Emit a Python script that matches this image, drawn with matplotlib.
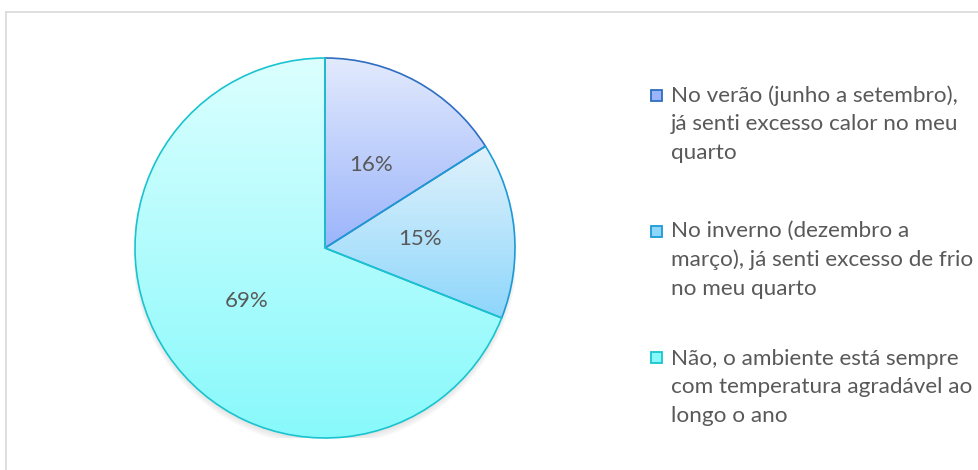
import matplotlib
matplotlib.use("Agg")
import matplotlib.pyplot as plt
import numpy as np
from matplotlib.colors import LinearSegmentedColormap
from matplotlib.patches import Rectangle, Circle
from matplotlib.lines import Line2D

categories = [
    "No verão (junho a setembro),\njá senti excesso calor no meu\nquarto",
    "No inverno (dezembro a\nmarço), já senti excesso de frio\nno meu quarto",
    "Não, o ambiente está sempre\ncom temperatura agradável ao\nlongo o ano",
]
values = [16, 15, 69]
top_colors = ["#e2eafd", "#e0f2fc", "#dcffff"]
bottom_colors = ["#9bb4fb", "#8ed6fb", "#88f9fb"]
edge_colors = ["#2e6ec0", "#1d9ad6", "#19c4cf"]

W, H = 979, 470
fig = plt.figure(figsize=(W / 100, H / 100), dpi=100)
fig.patch.set_facecolor("white")
FONT = ["Lato", "DejaVu Sans"]

cx, cy, r = 325, 248, 190
ax = fig.add_axes([(cx - r) / W, (H - cy - r) / H, 2 * r / W, 2 * r / H])

# soft shadow
for i in range(4):
    ax.add_patch(Circle((0, -0.012 - i * 0.006), 1.0 + 0.004 * i, facecolor="#808080",
                        edgecolor="none", alpha=0.05, zorder=-1))

wedges, texts, autotexts = ax.pie(
    values, startangle=90, counterclock=False, radius=1.0,
    autopct="%1.0f%%", pctdistance=0.5,
    textprops=dict(color="#595959", fontsize=16, family=FONT),
    wedgeprops=dict(linewidth=1.2),
)

grad = np.linspace(0, 1, 256).reshape(-1, 1)
for w, tc, bc, ec in zip(wedges, top_colors, bottom_colors, edge_colors):
    bb = w.get_path().get_extents()
    cmap = LinearSegmentedColormap.from_list("g", [bc, tc])
    im = ax.imshow(grad, cmap=cmap, origin="lower", aspect="auto",
                   extent=[bb.x0, bb.x1, bb.y0, bb.y1], zorder=0.5, interpolation="bilinear")
    im.set_clip_path(w)
    w.set_facecolor("none")
    w.set_edgecolor(ec)
    w.set_zorder(1)

for t in autotexts:
    t.set_zorder(3)

ax.set_xlim(-1, 1)
ax.set_ylim(-1, 1)
ax.set_aspect("auto")
ax.axis("off")

# frame
fig.add_artist(Line2D([6 / W, 1], [1 - 12 / H, 1 - 12 / H], color="#d9d9d9", lw=1.2))
fig.add_artist(Line2D([6 / W, 6 / W], [0, 1 - 12 / H], color="#d9d9d9", lw=1.2))

# legend
entry_tops = [85, 221, 349]
sq_y = [90, 226, 352]
sq = 11
for lab, ytop, sy, tc, bc, ec in zip(categories, entry_tops, sq_y, top_colors, bottom_colors, edge_colors):
    fig.text(671 / W, 1 - ytop / H, lab, ha="left", va="top", color="#595959",
             fontsize=16.2, family=FONT, linespacing=1.53)
    fig.add_artist(Rectangle((651 / W, 1 - (sy + sq) / H), sq / W, sq / H,
                             facecolor=bc, edgecolor=ec, lw=1.3, transform=fig.transFigure))

fig.savefig("out.png", dpi=100, facecolor="white")
